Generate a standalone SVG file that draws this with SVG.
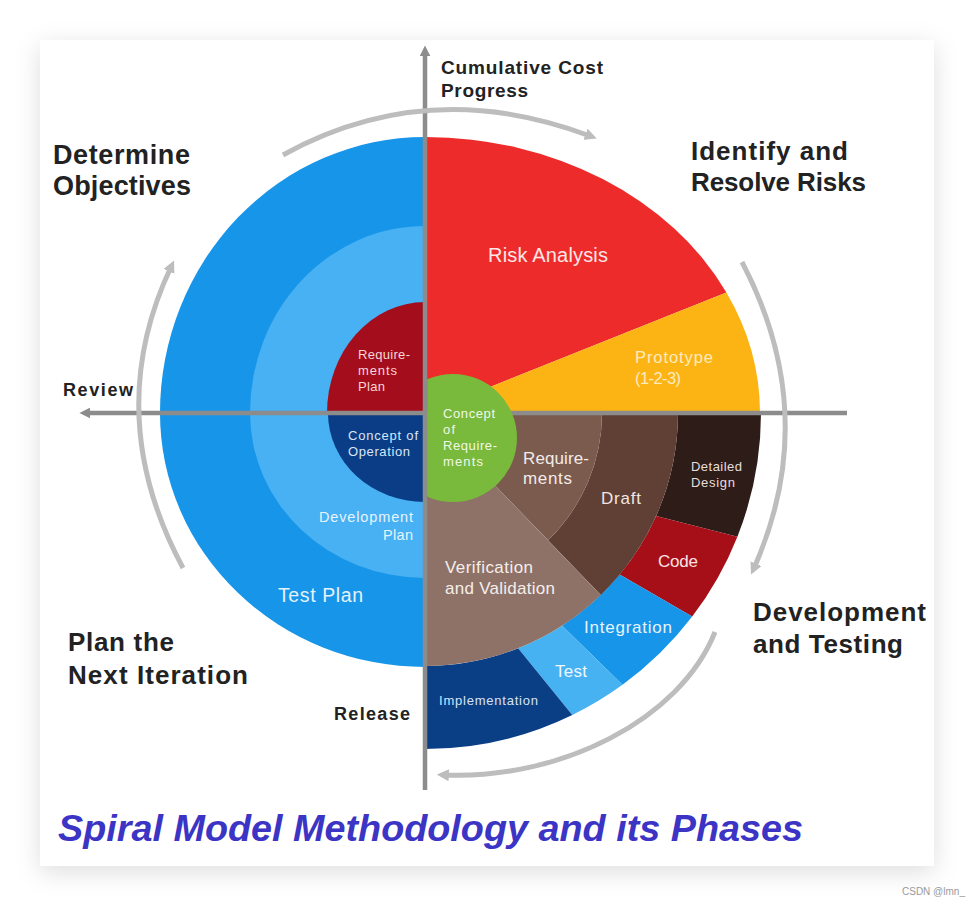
<svg xmlns="http://www.w3.org/2000/svg" width="974" height="906" viewBox="0 0 974 906">
<defs>
<filter id="sh" x="-10%" y="-10%" width="120%" height="125%">
<feDropShadow dx="0" dy="6" stdDeviation="12" flood-color="#000" flood-opacity="0.13"/>
</filter>
<clipPath id="rc"><rect x="427.2" y="0" width="547" height="906"/></clipPath>
<marker id="ah" viewBox="0 0 10 10" refX="4" refY="5" markerWidth="12" markerHeight="12" markerUnits="userSpaceOnUse" orient="auto">
<path d="M0,0 L10,5 L0,10 Z" fill="#bdbdbd"/>
</marker>
<marker id="ax" viewBox="0 0 10 10" refX="4" refY="5" markerWidth="11" markerHeight="11" markerUnits="userSpaceOnUse" orient="auto">
<path d="M0,0 L10,5 L0,10 Z" fill="#8c8c8c"/>
</marker>
</defs>
<style>
.h{font-family:"Liberation Sans",Arial,sans-serif;font-weight:bold;fill:#222;}
.l{font-family:"Liberation Sans",Arial,sans-serif;}
.arc{fill:none;stroke:#bdbdbd;stroke-width:5;}
.axis{fill:none;stroke:#8c8c8c;stroke-width:4.5;}
</style>
<rect x="0" y="0" width="974" height="906" fill="#fff"/>
<rect x="40" y="40" width="894" height="826" fill="#fff" filter="url(#sh)"/>

<!-- bottom-right quadrant -->
<g id="detailed-design">
<path d="M678,413 L761,413 A336,336 0 0 1 737.4,536.7 L656.1,515.9 A253,253 0 0 0 678,413 Z" fill="#2e1c19"/>
<text class="l" font-size="13" fill="#e8dedb" x="691" y="471" textLength="51">Detailed</text>
<text class="l" font-size="13" fill="#e8dedb" x="691" y="487" textLength="44">Design</text>
</g>
<g id="code">
<path d="M656.1,515.9 L737.4,536.7 A336,336 0 0 1 692.2,616.6 L619.6,574.6 A253,253 0 0 0 656.1,515.9 Z" fill="#a60f18"/>
<text class="l" font-size="17" fill="#fbe3e3" x="658" y="567" textLength="40">Code</text>
</g>
<g id="integration">
<path d="M619.6,574.6 L692.2,616.6 A336,336 0 0 1 622.5,684.8 L562.1,625.7 A253,253 0 0 0 619.6,574.6 Z" fill="#1795e8"/>
<text class="l" font-size="17" fill="#e6f3fd" x="584" y="633" textLength="88">Integration</text>
</g>
<g id="test">
<path d="M562.1,625.7 L622.5,684.8 A336,336 0 0 1 572.3,715 L518.1,648.2 A253,253 0 0 0 562.1,625.7 Z" fill="#47b2f2"/>
<text class="l" font-size="17" fill="#eef8fe" x="555" y="677" textLength="32">Test</text>
</g>
<g id="implementation">
<path d="M518.1,648.2 L572.3,715 A336,336 0 0 1 425,749 L425,666 A253,253 0 0 0 518.1,648.2 Z" fill="#0a3f86"/>
<text class="l" font-size="13" fill="#d5e3f5" x="439" y="705" textLength="99">Implementation</text>
</g>
<g id="draft">
<path d="M602,413 L678,413 A253,253 0 0 1 600.8,595 L548,540.3 A177,177 0 0 0 602,413 Z" fill="#603f34"/>
<text class="l" font-size="17" fill="#f0e6e2" x="601" y="504" textLength="40">Draft</text>
</g>
<g id="requirements">
<path d="M425,413 L602,413 A177,177 0 0 1 548,540.3 Z" fill="#7c5b4f"/>
<text class="l" font-size="17" fill="#f3ebe8" x="523" y="464" textLength="66">Require-</text>
<text class="l" font-size="17" fill="#f3ebe8" x="523" y="484" textLength="49">ments</text>
</g>
<g id="verification-validation">
<path d="M425,413 L600.8,595 A253,253 0 0 1 425,666 Z" fill="#8e7268"/>
<text class="l" font-size="17" fill="#f5eeeb" x="445" y="573" textLength="88">Verification</text>
<text class="l" font-size="17" fill="#f5eeeb" x="445" y="594" textLength="110">and Validation</text>
</g>

<!-- top-right quadrant -->
<g id="risk-analysis">
<path d="M425,413 L425,137 A335,276 0 0 1 726.4,292.4 Z" fill="#ed2b2b"/>
<text class="l" font-size="20" fill="#fde6e6" x="488" y="262" textLength="120">Risk Analysis</text>
</g>
<g id="prototype">
<path d="M425,413 L726.4,292.4 A335,276 0 0 1 760,413 Z" fill="#fbb414"/>
<text class="l" font-size="16.5" fill="#fdebc0" x="635" y="363" textLength="78">Prototype</text>
<text class="l" font-size="16.5" fill="#fdebc0" x="635" y="384" textLength="46">(1-2-3)</text>
</g>

<!-- left half -->
<g id="test-plan">
<path d="M425,413 L160,413 A265,276 0 0 1 425,137 Z" fill="#1795e8"/>
<path d="M425,413 L425,667 A265,254 0 0 1 160,413 Z" fill="#1795e8"/>
<text class="l" font-size="19.5" fill="#e3f2fd" x="278" y="602" textLength="85">Test Plan</text>
</g>
<g id="development-plan">
<path d="M425,413 L250,413 A175,187 0 0 1 425,226 Z" fill="#47b1f3"/>
<path d="M425,413 L425,578 A175,165 0 0 1 250,413 Z" fill="#47b1f3"/>
<text class="l" font-size="14.5" fill="#e6f4fe" x="319" y="522" textLength="94">Development</text>
<text class="l" font-size="14.5" fill="#e6f4fe" x="383" y="540" textLength="30">Plan</text>
</g>
<g id="requirements-plan">
<path d="M425,413 L327,413 A98,111 0 0 1 425,302 Z" fill="#a30d1c"/>
<text class="l" font-size="13" fill="#f6d6d6" x="358" y="359" textLength="52">Require-</text>
<text class="l" font-size="13" fill="#f6d6d6" x="358" y="375" textLength="39">ments</text>
<text class="l" font-size="13" fill="#f6d6d6" x="358" y="391" textLength="27">Plan</text>
</g>
<g id="concept-of-operation">
<path d="M425,413 L425,502 A97,89 0 0 1 328,413 Z" fill="#0a3d85"/>
<text class="l" font-size="13" fill="#d8e6f8" x="348" y="440" textLength="70">Concept of</text>
<text class="l" font-size="13" fill="#d8e6f8" x="348" y="456" textLength="62">Operation</text>
</g>

<!-- connectors -->
<g id="connectors">
<line class="axis" x1="425" y1="790" x2="425" y2="52" marker-end="url(#ax)"/>
<line class="axis" x1="847" y1="413" x2="86" y2="413" marker-end="url(#ax)"/>
<path class="arc" d="M283,155 Q428,75 590,136" marker-end="url(#ah)"/>
<path class="arc" d="M742,262 Q822,415 754,568" marker-end="url(#ah)"/>
<path class="arc" d="M715,632 C680,720 560,780 444,775" marker-end="url(#ah)"/>
<path class="arc" d="M183,568 Q101,415 171,267" marker-end="url(#ah)"/>
</g>

<g id="concept-of-requirements">
<circle cx="453" cy="438" r="64" fill="#79b93c" clip-path="url(#rc)"/>
<text class="l" font-size="13" fill="#f0f8e4" x="443" y="418" textLength="52">Concept</text>
<text class="l" font-size="13" fill="#f0f8e4" x="443" y="434" textLength="12">of</text>
<text class="l" font-size="13" fill="#f0f8e4" x="443" y="450" textLength="54">Require-</text>
<text class="l" font-size="13" fill="#f0f8e4" x="443" y="466" textLength="40">ments</text>
</g>

<!-- phase labels -->
<g id="labels">
<text class="h" font-size="19" x="441" y="74" textLength="162">Cumulative Cost</text>
<text class="h" font-size="19" x="441" y="97" textLength="87">Progress</text>
<text class="h" font-size="27" x="53" y="164" textLength="137">Determine</text>
<text class="h" font-size="27" x="53" y="195" textLength="138">Objectives</text>
<text class="h" font-size="26" x="691" y="160" textLength="157">Identify and</text>
<text class="h" font-size="26" x="691" y="191" textLength="175">Resolve Risks</text>
<text class="h" font-size="18" x="63" y="396" textLength="70">Review</text>
<text class="h" font-size="26" x="753" y="621" textLength="173">Development</text>
<text class="h" font-size="26" x="753" y="653" textLength="150">and Testing</text>
<text class="h" font-size="26" x="68" y="651" textLength="106">Plan the</text>
<text class="h" font-size="26" x="68" y="684" textLength="180">Next Iteration</text>
<text class="h" font-size="18" x="334" y="720" textLength="76">Release</text>
</g>

<text font-family="Liberation Sans, Arial, sans-serif" font-weight="bold" font-style="italic" font-size="37" fill="#3b34c4" x="58" y="841" textLength="745" lengthAdjust="spacingAndGlyphs">Spiral Model Methodology and its Phases</text>
<text font-family="Liberation Sans, Arial, sans-serif" font-size="10" fill="#9a9a9a" x="902" y="895">CSDN @lmn_</text>
</svg>
